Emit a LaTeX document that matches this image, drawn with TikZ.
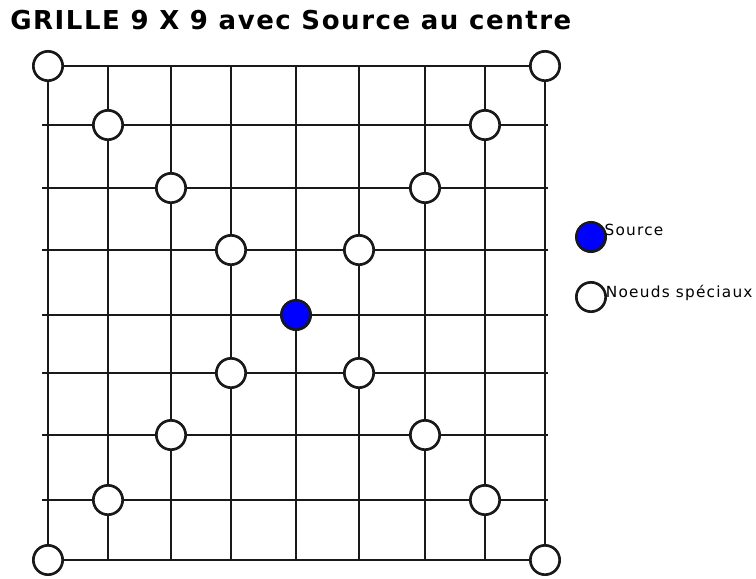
\documentclass[tikz,border=0pt]{standalone}
\usepackage{fontspec}
\setmainfont{DejaVu Sans}
\newfontfamily\titlefont[LetterSpace=6]{DejaVu Sans}
\newfontfamily\legfont[LetterSpace=8]{DejaVu Sans}
\usepackage{tikz}
\usetikzlibrary{positioning}
\definecolor{srccol}{HTML}{0000FF}

\begin{document}
\begin{tikzpicture}[
  x=0.75pt, y=-0.75pt,
  wire/.style={line width=2pt, draw=black!90},
  special/.style={circle, draw=black!90, line width=2pt, fill=white,
                  minimum size=22pt, inner sep=0pt},
  source/.style={special, fill=srccol},
  legtxt/.style={font=\legfont\fontsize{11.5}{13}\selectfont, inner sep=0pt},
]
\useasboundingbox (0,0) rectangle (756,578);

%============================ TITLE ============================
\node[anchor=base west, inner sep=0pt, font=\titlefont\bfseries\fontsize{19.5}{22}\selectfont]
  (title) at (10,29) {GRILLE 9 X 9 avec Source au centre};

%============================ GRID ============================
\foreach \gx [count=\i] in {48,108,171,231,296,359,425,485,545}
  \foreach \gy [count=\j] in {66,125,188,250,315,373,435,500,560}
    \coordinate (g-\i-\j) at (\gx,\gy);

\draw[wire] (g-1-1) -- (g-9-1);
\draw[wire] (g-1-9) -- (g-9-9);
\foreach \j in {2,...,8}
  \draw[wire] ([xshift=-4.5pt]g-1-\j) -- ([xshift=2pt]g-9-\j);
\foreach \i in {1,...,9}
  \draw[wire] (g-\i-1) -- (g-\i-9);

% special nodes on the diagonals
\foreach \i/\j in {1/1, 9/1, 2/2, 8/2, 3/3, 7/3, 4/4, 6/4,
                   4/6, 6/6, 3/7, 7/7, 2/8, 8/8, 1/9, 9/9}
  \node[special] (n-\i-\j) at (g-\i-\j) {};
\node[source] (src) at (g-5-5) {};

%============================ LEGEND ============================
\node[source] (lg-src) at (591,237) {};
\node[legtxt, right=-2pt of lg-src, yshift=5pt] (lt-src) {Source};
\node[special] (lg-sp) at (591,297) {};
\node[legtxt, right=-1pt of lg-sp, yshift=3pt] (lt-sp) {Noeuds spéciaux};

\end{tikzpicture}
\end{document}
